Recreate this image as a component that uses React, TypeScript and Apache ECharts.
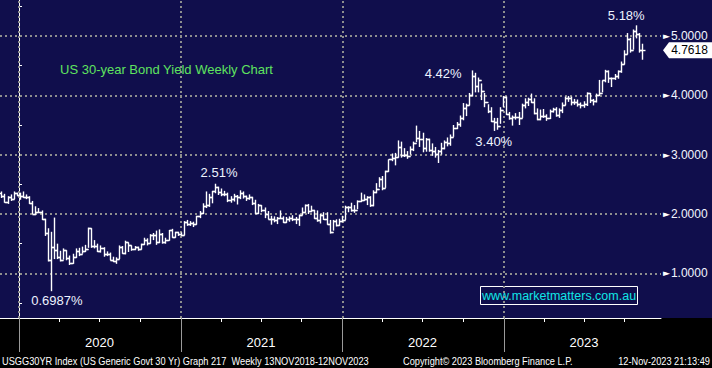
import React, { useEffect, useRef } from 'react';
import * as echarts from 'echarts';

// ---------- data ----------
const EPOCH = '2020-01-01';
const FIRST_WEEK_END = '2019-11-22';
const AXIS_START = '2019-11-19';
const AXIS_END = '2023-12-22';
const FIRST_OPEN = 2.36;

// weekly highs / lows / closes, week ending 22-Nov-2019 ... 10-Nov-2023
const WEEK_HIGH = [
  2.38, 2.34, 2.30, 2.33, 2.38, 2.36,
  2.36, 2.38, 2.33, 2.30, 2.22, 2.13, 2.10, 2.06, 1.92, 1.76, 1.70, 1.94, 1.50, 1.38, 1.42, 1.39, 1.30, 1.33, 1.42, 1.43, 1.45, 1.48,
  1.77, 1.76, 1.56, 1.50, 1.47, 1.44, 1.37, 1.35, 1.28, 1.27, 1.47, 1.46, 1.55, 1.52, 1.47, 1.46, 1.45, 1.50, 1.60, 1.59, 1.66, 1.68,
  1.72, 1.74, 1.68, 1.60, 1.73, 1.75, 1.70, 1.70, 1.69,
  1.88, 1.90, 1.88, 1.87, 1.97, 2.05, 2.18, 2.38, 2.34, 2.39, 2.51, 2.46, 2.43, 2.39, 2.36, 2.30, 2.34, 2.32, 2.40, 2.38, 2.31, 2.33,
  2.29, 2.24, 2.17, 2.15, 2.11, 2.05, 1.97, 1.96, 1.95, 2.06, 1.96, 1.95, 1.96, 1.98, 1.95, 1.99, 2.11, 2.16, 2.17, 2.14, 2.07, 2.06,
  2.00, 2.03, 2.03, 1.90, 1.90, 1.91, 1.92, 1.97,
  2.14, 2.13, 2.19, 2.15, 2.23, 2.36, 2.33, 2.30, 2.30, 2.40, 2.52, 2.62, 2.64, 2.73, 2.92, 3.02, 3.03, 3.24, 3.22, 3.11, 3.06, 3.14,
  3.22, 3.49, 3.40, 3.37, 3.28, 3.27, 3.19, 3.13, 3.08, 3.20, 3.24, 3.29, 3.34, 3.50, 3.55, 3.66, 3.87, 3.86, 4.04, 4.42, 4.38, 4.30,
  4.20, 4.04, 3.85, 3.80, 3.62, 3.62, 3.80, 3.99,
  3.98, 3.72, 3.66, 3.70, 3.72, 3.86, 3.95, 3.96, 4.03, 3.95, 3.78, 3.76, 3.77, 3.68, 3.76, 3.79, 3.80, 3.78, 3.88, 3.98, 3.99, 3.98,
  3.94, 3.93, 3.88, 3.90, 4.05, 4.04, 3.94, 4.03, 4.26, 4.25, 4.43, 4.42, 4.30, 4.36, 4.42, 4.57, 4.76, 5.05, 4.97, 5.11, 5.18, 5.05,
  4.87,
];
const WEEK_LOW = [
  2.27, 2.19, 2.17, 2.22, 2.25, 2.30,
  2.24, 2.27, 2.25, 2.17, 2.00, 1.98, 2.02, 1.90, 1.63, 1.20, 0.6987, 1.24, 1.24, 1.20, 1.23, 1.22, 1.14, 1.16, 1.26, 1.29, 1.33, 1.36,
  1.43, 1.43, 1.42, 1.36, 1.35, 1.28, 1.29, 1.22, 1.19, 1.16, 1.24, 1.33, 1.32, 1.36, 1.38, 1.39, 1.38, 1.40, 1.48, 1.47, 1.50, 1.56,
  1.48, 1.51, 1.50, 1.50, 1.55, 1.60, 1.60, 1.63, 1.63,
  1.64, 1.80, 1.80, 1.78, 1.82, 1.93, 2.00, 2.10, 2.12, 2.18, 2.35, 2.32, 2.30, 2.30, 2.20, 2.19, 2.21, 2.16, 2.25, 2.26, 2.22, 2.24,
  2.15, 2.00, 2.00, 2.03, 1.93, 1.91, 1.82, 1.86, 1.83, 1.92, 1.85, 1.85, 1.87, 1.88, 1.83, 1.80, 1.98, 2.02, 2.00, 2.03, 1.92, 1.87,
  1.84, 1.90, 1.82, 1.67, 1.72, 1.79, 1.80, 1.86,
  1.90, 2.03, 2.04, 2.02, 2.08, 2.20, 2.22, 2.15, 2.12, 2.13, 2.35, 2.45, 2.40, 2.44, 2.71, 2.89, 2.82, 2.95, 2.95, 2.96, 2.93, 3.00,
  3.06, 3.21, 3.13, 3.04, 3.05, 3.05, 2.98, 2.95, 2.86, 3.00, 3.09, 3.14, 3.15, 3.30, 3.43, 3.47, 3.58, 3.65, 3.83, 3.98, 4.05, 4.05,
  3.92, 3.80, 3.70, 3.55, 3.40, 3.42, 3.52, 3.80,
  3.67, 3.59, 3.49, 3.59, 3.50, 3.62, 3.78, 3.82, 3.87, 3.68, 3.58, 3.58, 3.62, 3.57, 3.60, 3.71, 3.64, 3.62, 3.70, 3.83, 3.89, 3.83,
  3.84, 3.81, 3.78, 3.79, 3.82, 3.87, 3.83, 3.88, 3.99, 4.05, 4.22, 4.21, 4.14, 4.26, 4.28, 4.38, 4.52, 4.69, 4.72, 4.77, 4.96, 4.72,
  4.60,
];
const WEEK_CLOSE = [
  2.30, 2.21, 2.29, 2.25, 2.35, 2.32,
  2.30, 2.28, 2.28, 2.19, 2.00, 2.04, 2.04, 1.91, 1.68, 1.22, 1.45, 1.40, 1.27, 1.23, 1.39, 1.26, 1.17, 1.28, 1.38, 1.32, 1.37, 1.41,
  1.76, 1.46, 1.46, 1.37, 1.43, 1.32, 1.32, 1.23, 1.20, 1.24, 1.45, 1.35, 1.52, 1.47, 1.41, 1.44, 1.41, 1.49, 1.57, 1.51, 1.65, 1.65,
  1.52, 1.67, 1.52, 1.57, 1.73, 1.62, 1.69, 1.66, 1.65,
  1.87, 1.83, 1.85, 1.83, 1.96, 2.01, 2.13, 2.15, 2.29, 2.38, 2.45, 2.37, 2.33, 2.33, 2.24, 2.25, 2.30, 2.28, 2.36, 2.30, 2.27, 2.28,
  2.19, 2.02, 2.15, 2.06, 2.00, 1.92, 1.92, 1.90, 1.94, 1.93, 1.86, 1.91, 1.94, 1.91, 1.91, 1.98, 2.03, 2.16, 2.05, 2.06, 1.93, 1.90,
  1.98, 1.91, 1.83, 1.69, 1.88, 1.82, 1.88, 1.90,
  2.11, 2.12, 2.07, 2.07, 2.22, 2.24, 2.25, 2.29, 2.16, 2.37, 2.42, 2.59, 2.44, 2.72, 2.92, 2.95, 2.96, 3.13, 2.99, 2.99, 2.97, 3.09,
  3.20, 3.28, 3.26, 3.11, 3.27, 3.08, 3.06, 3.01, 3.06, 3.11, 3.22, 3.20, 3.30, 3.45, 3.52, 3.61, 3.78, 3.84, 4.00, 4.33, 4.15, 4.26,
  4.08, 3.88, 3.74, 3.56, 3.55, 3.48, 3.76, 3.97,
  3.69, 3.61, 3.64, 3.63, 3.62, 3.83, 3.88, 3.93, 3.88, 3.70, 3.60, 3.65, 3.65, 3.61, 3.74, 3.77, 3.67, 3.75, 3.83, 3.95, 3.96, 3.88,
  3.89, 3.85, 3.83, 3.85, 4.04, 3.92, 3.91, 4.01, 4.04, 4.26, 4.41, 4.29, 4.29, 4.32, 4.41, 4.52, 4.70, 4.95, 4.77, 5.09, 5.04, 4.77,
  4.7618,
];

const YEAR_STARTS = ['2020-01-01', '2021-01-01', '2022-01-01', '2023-01-01'];
const YEAR_LABEL_DATES = ['2020-07-01', '2021-07-01', '2022-07-01', '2023-07-01'];
const QUARTER_TICKS = [
  '2020-04-01', '2020-07-01', '2020-10-01',
  '2021-04-01', '2021-07-01', '2021-10-01',
  '2022-04-01', '2022-07-01', '2022-10-01',
  '2023-04-01', '2023-07-01', '2023-10-01',
];
const Y_MIN = 0.247;
const Y_MAX = 5.607;
const Y_LABELS = [1, 2, 3, 4, 5];
const Y_MINOR = [0.5, 1.5, 2.5, 3.5, 4.5, 5.5];

const ANNOT_WEEKS = [16, 69, 152, 159, 205];
const ANNOT_SIDE = ['low', 'high', 'high', 'low', 'high'];
const ANNOT_TEXT = ['0.6987%', '2.51%', '4.42%', '3.40%', '5.18%'];
const LAST_VALUE_TEXT = '4.7618';

const TITLE = 'US 30-year Bond Yield Weekly Chart';
const WATERMARK = 'www.marketmatters.com.au';
const FOOTER_LEFT = 'USGG30YR Index (US Generic Govt 30 Yr) Graph 217  Weekly 13NOV2018-12NOV2023';
const FOOTER_MID = 'Copyright\u00a9 2023 Bloomberg Finance L.P.';
const FOOTER_RIGHT = '12-Nov-2023 21:13:49';

// ---------- helpers ----------
const DAY = 86400000;
const toDay = (s: string) => (Date.parse(s) - Date.parse(EPOCH)) / DAY;
const weekDay = (i: number) => toDay(FIRST_WEEK_END) + 7 * i;

// ---------- layout / style ----------
const NAVY = '#100e4c';
const GRID_COLOR = '#8e8e8e';
const SANS = "'Liberation Sans', Arial, sans-serif";
const ANNOT_LAYOUT = [
  { position: 'bottom', distance: 2, offset: [6, 0] },
  { position: 'top', distance: 4, offset: [4, 0] },
  { position: 'left', distance: 10, offset: [0, 3] },
  { position: 'bottom', distance: 4, offset: [0, 0] },
  { position: 'top', distance: 3, offset: [-10, 0] },
];

export default function App() {
  const ref = useRef<HTMLDivElement>(null);

  useEffect(() => {
    if (!ref.current) return;
    const chart = echarts.init(ref.current, undefined, { renderer: 'svg' });

    const data = WEEK_CLOSE.map((c, i) => [
      weekDay(i),
      i === 0 ? FIRST_OPEN : WEEK_CLOSE[i - 1],
      WEEK_HIGH[i],
      WEEK_LOW[i],
      c,
    ]);
    const last = WEEK_CLOSE.length - 1;
    const xMin = toDay(AXIS_START);
    const xMax = toDay(AXIS_END);

    const footerText = (text: string, x: number, align: string) => ({
      type: 'text',
      x,
      y: 361,
      scaleX: 0.84,
      style: {
        text,
        fill: '#ffffff',
        fontSize: 11,
        fontFamily: SANS,
        textAlign: align,
        textVerticalAlign: 'middle',
      },
    });

    const option: any = {
      animation: false,
      backgroundColor: NAVY,
      grid: { left: 0, right: 51, top: 0, bottom: 50, containLabel: false, outerBoundsMode: 'none' },
      xAxis: [
        {
          type: 'value',
          min: xMin,
          max: xMax,
          position: 'bottom',
          axisLine: { show: true, lineStyle: { color: '#ffffff', width: 1 } },
          axisTick: {
            show: true,
            customValues: YEAR_STARTS.map(toDay),
            length: 34,
            lineStyle: { color: '#9a9a9a', width: 1 },
          },
          axisLabel: {
            show: true,
            customValues: YEAR_LABEL_DATES.map(toDay),
            formatter: (v: number) => String(new Date(Date.parse(EPOCH) + v * DAY).getUTCFullYear()),
            color: '#ffffff',
            fontSize: 13,
            fontFamily: SANS,
            margin: 18,
          },
          splitLine: { show: false },
        },
        {
          type: 'value',
          min: xMin,
          max: xMax,
          position: 'bottom',
          axisLine: { show: false },
          axisTick: {
            show: true,
            customValues: QUARTER_TICKS.map(toDay),
            length: 4,
            lineStyle: { color: '#ffffff', width: 1 },
          },
          axisLabel: { show: false },
          splitLine: { show: false },
        },
      ],
      yAxis: {
        type: 'value',
        position: 'right',
        min: Y_MIN,
        max: Y_MAX,
        axisLine: { show: true, lineStyle: { color: '#ffffff', width: 1 } },
        axisTick: {
          show: true,
          customValues: Y_MINOR,
          length: 3,
          lineStyle: { color: '#ffffff', width: 1 },
        },
        axisLabel: {
          show: true,
          customValues: Y_LABELS,
          margin: 2,
          formatter: (v: number) => `{t|\u25BA}{v|${v.toFixed(4)}}`,
          rich: {
            t: { fontSize: 9, fontFamily: "'DejaVu Sans'", color: '#ffffff', padding: [0, 1, 0, 0] },
            v: { fontSize: 12, fontFamily: SANS, color: '#f2f5ff' },
          },
        },
        splitLine: { show: false },
      },
      series: [
        {
          type: 'custom',
          xAxisIndex: 0,
          yAxisIndex: 0,
          data,
          encode: { x: 0, y: [1, 2, 3, 4] },
          z: 3,
          renderItem: (params: any, api: any) => {
            const x = api.value(0);
            const o = api.coord([x, api.value(1)]);
            const h = api.coord([x, api.value(2)]);
            const l = api.coord([x, api.value(3)]);
            const c = api.coord([x, api.value(4)]);
            const px = Math.round(h[0]) + 0.5;
            const oy = Math.round(o[1]) + 0.5;
            const cy = Math.round(c[1]) + 0.5;
            const st = { stroke: '#ffffff', lineWidth: 1.4 };
            return {
              type: 'group',
              children: [
                { type: 'line', shape: { x1: px, y1: h[1], x2: px, y2: l[1] }, style: st },
                { type: 'line', shape: { x1: px - 3, y1: oy, x2: px, y2: oy }, style: st },
                { type: 'line', shape: { x1: px, y1: cy, x2: px + 3, y2: cy }, style: st },
              ],
            };
          },
          markLine: {
            silent: true,
            z: 1,
            symbol: ['none', 'none'],
            label: { show: false },
            lineStyle: { color: GRID_COLOR, type: [2, 3], width: 2 },
            data: [
              ...Y_LABELS.map((v) => ({ yAxis: v })),
              ...YEAR_STARTS.map((d) => ({ xAxis: toDay(d) })),
            ],
          },
          markPoint: {
            silent: true,
            data: [
              ...ANNOT_WEEKS.map((w, k) => ({
                coord: [weekDay(w), ANNOT_SIDE[k] === 'low' ? WEEK_LOW[w] : WEEK_HIGH[w]],
                symbol: 'circle',
                symbolSize: 1,
                itemStyle: { color: 'rgba(0,0,0,0)' },
                label: {
                  show: true,
                  formatter: ANNOT_TEXT[k],
                  position: ANNOT_LAYOUT[k].position,
                  distance: ANNOT_LAYOUT[k].distance,
                  offset: ANNOT_LAYOUT[k].offset,
                  color: '#eef3ff',
                  fontSize: 13,
                  fontFamily: SANS,
                },
              })),
              {
                coord: [xMax, WEEK_CLOSE[last]],
                symbol: 'path://M0,8L6,0L49,0L49,16L6,16Z',
                symbolKeepAspect: false,
                symbolSize: [49, 16],
                symbolOffset: [26.5, 0],
                itemStyle: { color: '#ffffff' },
                label: {
                  show: true,
                  position: 'inside',
                  formatter: LAST_VALUE_TEXT,
                  offset: [2, 0],
                  color: '#000000',
                  fontSize: 12,
                  fontFamily: SANS,
                },
              },
            ],
          },
        },
      ],
      graphic: [
        { type: 'rect', z: -1, shape: { x: 0, y: 318, width: 712, height: 50 }, style: { fill: '#000000' } },
        {
          type: 'text',
          x: 60,
          y: 69,
          style: { text: TITLE, fill: '#5fe35f', fontSize: 13, fontFamily: SANS, textVerticalAlign: 'middle' },
        },
        {
          type: 'rect',
          shape: { x: 480.5, y: 286.5, width: 157, height: 18 },
          style: { fill: 'none', stroke: '#ffffff', lineWidth: 1 },
        },
        {
          type: 'text',
          x: 559,
          y: 296,
          style: {
            text: WATERMARK,
            fill: '#10e6e6',
            fontSize: 12.5,
            fontFamily: SANS,
            textAlign: 'center',
            textVerticalAlign: 'middle',
          },
        },
        footerText(FOOTER_LEFT, 2, 'left'),
        footerText(FOOTER_MID, 403, 'left'),
        footerText(FOOTER_RIGHT, 710, 'right'),
      ],
    };

    chart.setOption(option);
    return () => chart.dispose();
  }, []);

  return (
    <div
      ref={ref}
      style={{ position: 'fixed', left: 0, top: 0, width: 712, height: 368, background: '#000' }}
    />
  );
}
